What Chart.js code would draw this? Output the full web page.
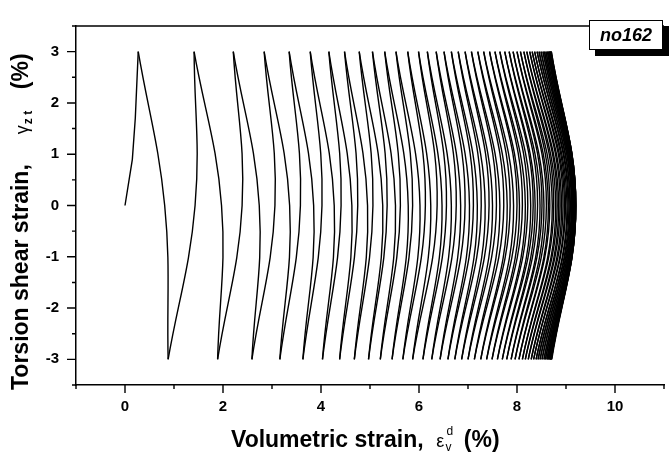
<!DOCTYPE html>
<html>
<head>
<meta charset="utf-8">
<script src="https://cdn.jsdelivr.net/npm/chart.js@4.4.0/dist/chart.umd.min.js"></script>
<style>
  html, body { margin: 0; padding: 0; background: #fff; overflow: hidden; }
  #wrap { position: relative; width: 671px; height: 461px; overflow: hidden; }
  #plot { position: absolute; left: 0; top: 0; }
  .ttl { position: absolute; font-family: "Liberation Sans", Arial, sans-serif; font-weight: bold; font-size: 23px; color: #000; white-space: nowrap; line-height: 23px; }
  .sym { font-weight: normal; font-size: 18px; }
  .stk { display: inline-block; position: relative; width: 13px; height: 10px; }
  .stk span { position: absolute; font-weight: normal; font-size: 12px; line-height: 12px; }
  #xt { left: 231px; top: 428px; }
  #yt { left: 9px; top: 390px; transform: rotate(-90deg); transform-origin: 0 0; }
  #tag { position: absolute; left: 589px; top: 20px; width: 72px; height: 28px; border: 1.5px solid #000; background: #fff;
         box-shadow: 6px 6px 0 #000; font-family: "Liberation Sans", Arial, sans-serif; font-weight: bold; font-style: italic;
         font-size: 18px; line-height: 28px; text-align: center; }
</style>
</head>
<body>
<div id="wrap">
  <canvas id="plot" width="677" height="461"></canvas>
  <div id="xt" class="ttl">Volumetric strain,&nbsp; <span class="sym">ε</span><span class="stk"><span style="left:2px;top:-12px">d</span><span style="left:1px;top:4px">v</span></span> (%)</div>
  <div id="yt" class="ttl">Torsion shear strain,<span style="display:inline-block;width:30px"></span><span class="sym">γ</span><span class="stk" style="width:22px"><span style="left:1px;top:4px;font-weight:bold">z t</span></span><span style="display:inline-block;width:14px"></span>(%)</div>
  <div id="tag">no162</div>
</div>
<script>
// initial loading from zero up to the first peak
const riseX = [0, 0.15, 0.21, 0.27];
const riseG = [0, 0.9, 1.7, 3];

// volumetric strain at each turning point (first at +3 %, then alternating -3 / +3)
const turnX = [
  0.27, 0.88, 1.41, 1.89, 2.21, 2.59, 2.84, 3.16, 3.35, 3.63,
  3.78, 4.03, 4.16, 4.38, 4.48, 4.68, 4.78, 4.97, 5.05, 5.21,
  5.30, 5.45, 5.53, 5.67, 5.77, 5.87, 5.99, 6.08, 6.17, 6.26,
  6.35, 6.43, 6.51, 6.59, 6.66, 6.73, 6.80, 6.87, 6.94, 7.00,
  7.07, 7.13, 7.20, 7.26, 7.32, 7.38, 7.44, 7.49, 7.55, 7.60,
  7.65, 7.70, 7.75, 7.79, 7.84, 7.88, 7.92, 7.96, 8.00, 8.04,
  8.07, 8.11, 8.14, 8.17, 8.20, 8.23, 8.26, 8.29, 8.31, 8.34,
  8.36, 8.39, 8.41, 8.43, 8.45, 8.47, 8.49, 8.51, 8.53, 8.55,
  8.56, 8.58, 8.59, 8.61, 8.62, 8.63, 8.64, 8.65, 8.66, 8.67,
  8.67, 8.68, 8.68, 8.69, 8.69, 8.70, 8.70, 8.71
];
const turnG = [3, -3];

// volumetric strain where each half cycle crosses zero shear strain
const midX = [
  0.81, 1.43, 1.97, 2.39, 2.74, 3.06, 3.36, 3.58, 3.85, 4.02,
  4.27, 4.41, 4.63, 4.75, 4.95, 5.06, 5.26, 5.35, 5.52, 5.62,
  5.78, 5.87, 6.02, 6.13, 6.24, 6.37, 6.47, 6.56, 6.66, 6.76,
  6.85, 6.94, 7.03, 7.11, 7.19, 7.27, 7.35, 7.43, 7.50, 7.58,
  7.65, 7.73, 7.80, 7.86, 7.93, 8.00, 8.05, 8.11, 8.17, 8.22,
  8.28, 8.33, 8.37, 8.42, 8.47, 8.51, 8.55, 8.60, 8.64, 8.67,
  8.72, 8.75, 8.79, 8.82, 8.85, 8.88, 8.91, 8.94, 8.97, 8.99,
  9.02, 9.04, 9.06, 9.08, 9.09, 9.11, 9.12, 9.13, 9.14, 9.15,
  9.16, 9.16, 9.17, 9.17, 9.18, 9.18, 9.18, 9.18, 9.18, 9.19,
  9.19, 9.19, 9.19, 9.20, 9.20, 9.20, 9.20
];

const xLabels = [0, 2, 4, 6, 8, 10];
const yLabels = [-3, -2, -1, 0, 1, 2, 3];

const FONT = '"Liberation Sans", Arial, sans-serif';

function buildDatasets() {
  const sets = [{
    data: riseX.map((x, i) => ({ x, y: riseG[i] })),
    tension: 0
  }];
  for (let k = 0; k < midX.length; k++) {
    const g0 = turnG[k % 2];
    const g1 = turnG[(k + 1) % 2];
    sets.push({
      data: [{ x: turnX[k], y: g0 }, { x: midX[k], y: 0 }, { x: turnX[k + 1], y: g1 }],
      tension: 0.4
    });
  }
  return sets.map(s => Object.assign(s, {
    showLine: true,
    borderColor: '#000',
    borderWidth: 1.4,
    pointRadius: 0
  }));
}

// outward tick marks (long at labelled values) and the top frame line
const frame = {
  id: 'frame',
  afterDraw(chart) {
    const { ctx, chartArea, scales } = chart;
    ctx.save();
    ctx.strokeStyle = '#000';
    ctx.lineWidth = 1.4;
    ctx.beginPath();
    scales.x.ticks.forEach(t => {
      const px = scales.x.getPixelForValue(t.value);
      const len = xLabels.includes(t.value) ? 8 : 4;
      ctx.moveTo(px, chartArea.bottom);
      ctx.lineTo(px, chartArea.bottom + len);
    });
    scales.y.ticks.forEach(t => {
      const py = scales.y.getPixelForValue(t.value);
      const len = yLabels.includes(t.value) ? 9 : 4;
      ctx.moveTo(chartArea.left, py);
      ctx.lineTo(chartArea.left - len, py);
    });
    ctx.moveTo(chartArea.left, chartArea.top);
    ctx.lineTo(chartArea.right, chartArea.top);
    ctx.stroke();
    ctx.restore();
  }
};

new Chart(document.getElementById('plot').getContext('2d'), {
  type: 'scatter',
  data: { datasets: buildDatasets() },
  options: {
    responsive: false,
    animation: false,
    devicePixelRatio: 1,
    layout: { padding: { top: 14, left: 0, right: 0, bottom: 0 } },
    scales: {
      x: {
        min: -1,
        max: 11,
        grid: { display: false, drawTicks: false },
        border: { display: true, color: '#000', width: 1.5 },
        ticks: {
          stepSize: 1,
          padding: 13,
          color: '#000',
          maxRotation: 0,
          autoSkip: false,
          font: { family: FONT, size: 15, weight: 'bold' },
          callback: v => (xLabels.includes(v) ? String(v) : '')
        },
        afterFit: s => { s.height = 76; }
      },
      y: {
        min: -3.5,
        max: 3.5,
        grid: { display: false, drawTicks: false },
        border: { display: true, color: '#000', width: 1.5 },
        ticks: {
          stepSize: 0.5,
          padding: 17,
          color: '#000',
          autoSkip: false,
          font: { family: FONT, size: 15, weight: 'bold' },
          callback: v => (yLabels.includes(v) ? String(v) : '')
        },
        afterFit: s => { s.width = 76; }
      }
    },
    plugins: {
      legend: { display: false },
      tooltip: { enabled: false }
    }
  },
  plugins: [frame]
});
</script>
</body>
</html>
